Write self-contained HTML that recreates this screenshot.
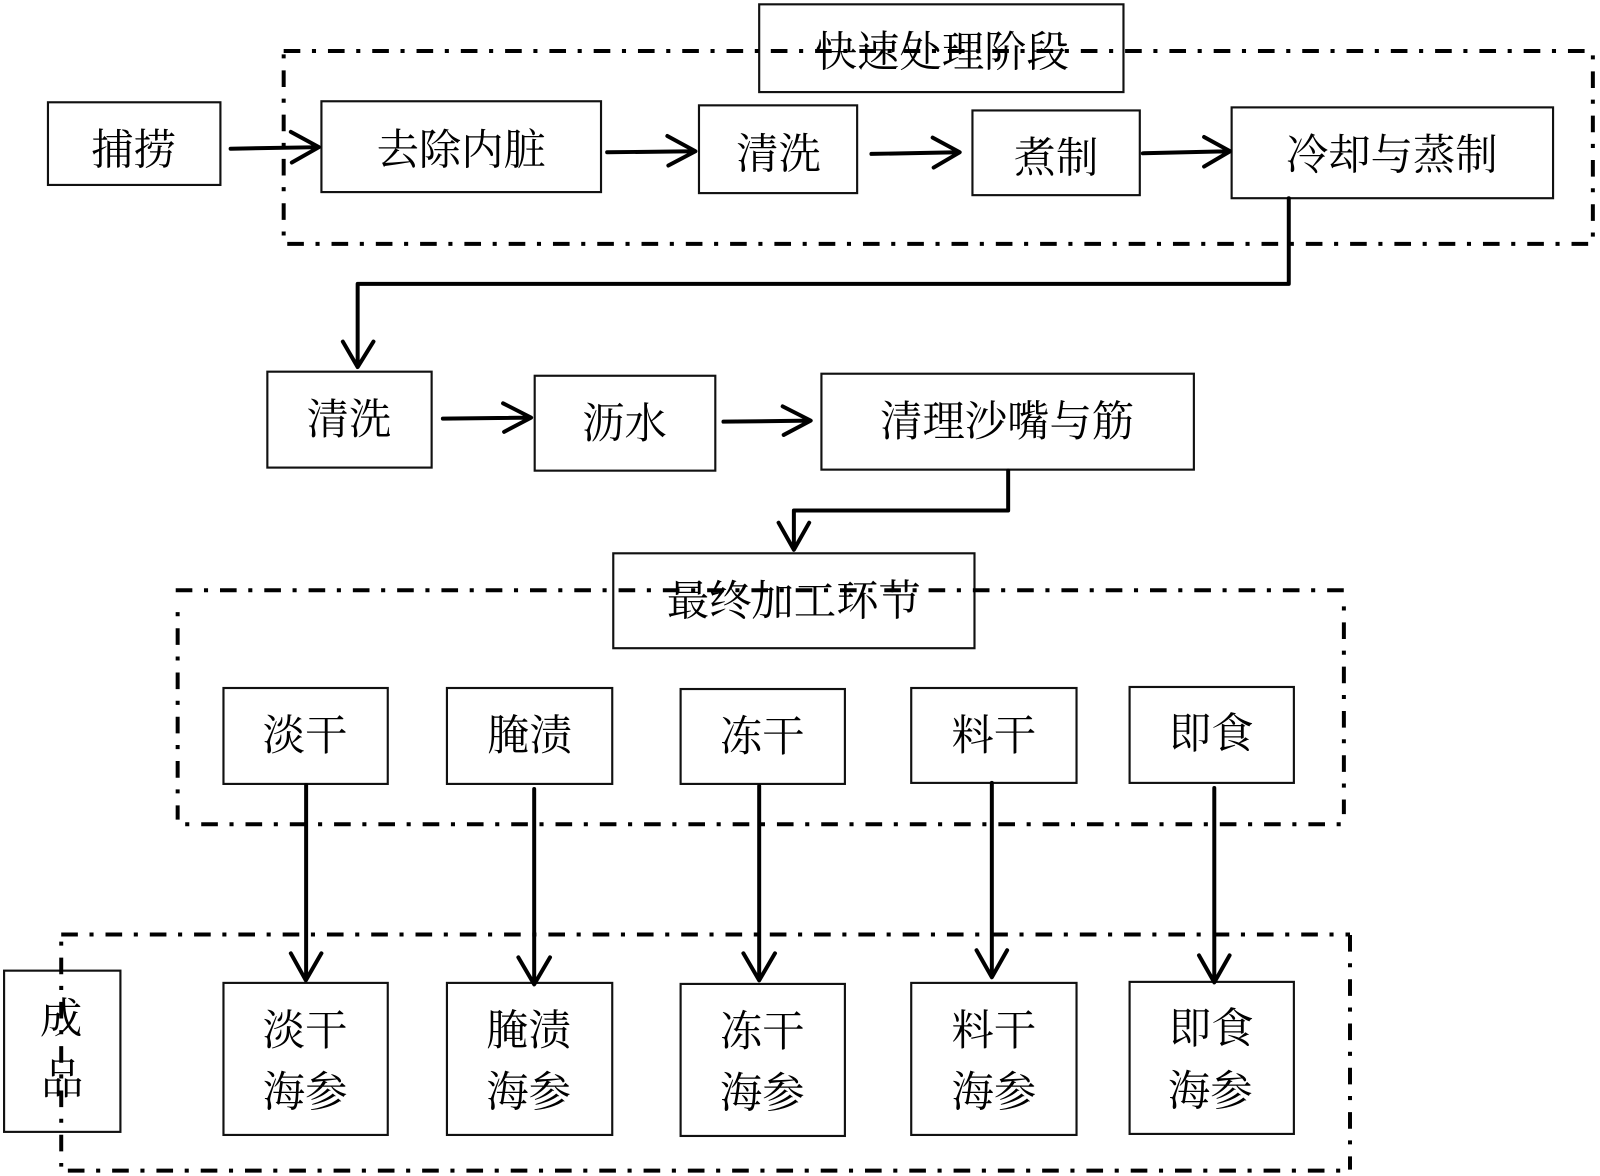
<!DOCTYPE html>
<html lang="zh">
<head>
<meta charset="utf-8">
<style>
html,body{margin:0;padding:0;background:#fff;width:1600px;height:1176px;overflow:hidden}
svg{display:block}
text{font-family:"Liberation Serif","Noto Serif CJK SC",serif;font-size:41.5px;text-anchor:middle;dominant-baseline:central;fill:#000}
.b{fill:none;stroke:#111;stroke-width:2.1}
.d{fill:none;stroke:#000;stroke-width:3.9;stroke-dasharray:16.3 11.4 4 11.7}
.v{fill:none;stroke:#000;stroke-width:3.9;stroke-dasharray:4 11.7 16.3 11.4}
.a{fill:none;stroke:#000;stroke-width:3.9;stroke-linejoin:round;stroke-linecap:round}
</style>
</head>
<body>
<svg width="1600" height="1176" viewBox="0 0 1568 1152" xmlns="http://www.w3.org/2000/svg">
<!-- boxes -->
<rect class="b" x="744" y="4" width="357" height="86"/>
<rect class="b" x="47" y="100" width="169" height="81"/>
<rect class="b" x="315" y="99" width="274" height="89"/>
<rect class="b" x="685" y="103" width="155" height="86"/>
<rect class="b" x="953" y="108" width="164" height="83"/>
<rect class="b" x="1207" y="105" width="315" height="89"/>
<rect class="b" x="262" y="364" width="161" height="94"/>
<rect class="b" x="524" y="368" width="177" height="93"/>
<rect class="b" x="805" y="366" width="365" height="94"/>
<rect class="b" x="601" y="542" width="354" height="93"/>
<rect class="b" x="219" y="674" width="161" height="94"/>
<rect class="b" x="438" y="674" width="162" height="94"/>
<rect class="b" x="667" y="675" width="161" height="93"/>
<rect class="b" x="893" y="674" width="162" height="93"/>
<rect class="b" x="1107" y="673" width="161" height="94"/>
<rect class="b" x="4" y="951" width="114" height="158"/>
<rect class="b" x="219" y="963" width="161" height="149"/>
<rect class="b" x="438" y="963" width="162" height="149"/>
<rect class="b" x="667" y="964" width="161" height="149"/>
<rect class="b" x="893" y="963" width="162" height="149"/>
<rect class="b" x="1107" y="962" width="161" height="149"/>
<!-- dash-dot frames -->
<path class="d" d="M278 49.700H1561"/>
<path class="d" d="M281.500 238.800H1561"/>
<path class="v" d="M278 53V230.500"/>
<path class="v" d="M1561 54V232"/>
<path class="d" d="M172.200 578.200H1317"/>
<path class="v" d="M181.500 807.500H1314"/>
<path class="v" d="M174.100 599.700V803"/>
<path class="v" d="M1317 594V797.600"/>
<path class="d" d="M60 915.600H1323"/>
<path class="d" d="M66.500 1147H1320"/>
<path class="v" d="M60 922.500V1143"/>
<path class="d" d="M1323 916V1146"/>
<!-- text -->
<g transform="translate(0,1.700)">
<text x="923" y="50">快速处理阶段</text>
<text x="131" y="146">捕捞</text>
<text x="452" y="146">去除内脏</text>
<text x="763" y="150">清洗</text>
<text x="1035" y="154">煮制</text>
<text x="1364" y="151">冷却与蒸制</text>
<text x="342" y="410">清洗</text>
<text x="612" y="414">沥水</text>
<text x="987" y="412">清理沙嘴与筋</text>
<text x="778" y="588">最终加工环节</text>
<text x="299" y="720">淡干</text>
<text x="519" y="720">腌渍</text>
<text x="747" y="721">冻干</text>
<text x="974" y="720">料干</text>
<text x="1187" y="718">即食</text>
<text x="60" y="997">成</text>
<text x="61" y="1057">品</text>
<text x="299" y="1009">淡干</text>
<text x="299" y="1069">海参</text>
<text x="518" y="1009">腌渍</text>
<text x="518" y="1069">海参</text>
<text x="747" y="1010">冻干</text>
<text x="747" y="1070">海参</text>
<text x="974" y="1009">料干</text>
<text x="974" y="1069">海参</text>
<text x="1187" y="1007">即食</text>
<text x="1186" y="1068">海参</text>
</g>
<!-- arrows -->
<path class="a" d="M226 145.500L311 144M285 129L312.500 144L286 159"/>
<path class="a" d="M595 149L680 148M654 133L681.500 148L655 162"/>
<path class="a" d="M854 150.600L939 149M914 134.600L940.500 149L915 164"/>
<path class="a" d="M1120 150L1204 148M1180 134L1205.500 148L1180 163"/>
<path class="a" d="M1263 194V278H350.500V358M336 334.500L350.500 359.500L366 334.500"/>
<path class="a" d="M434 410L519 409M493 395L520.500 409L494 423"/>
<path class="a" d="M709 413L793 412M767 398L794.500 412L768 426"/>
<path class="a" d="M988 461V500H778V537M763 512L778 538.500L793 512"/>
<path class="a" d="M300 769V959M285 934L299.700 960.500L315 934"/>
<path class="a" d="M523.500 773V963M508 938L523.500 964.500L539 938"/>
<path class="a" d="M744 770V959M728.500 934L744 960.500L759.500 934"/>
<path class="a" d="M972 767V956M957 931L972 957.500L987 931"/>
<path class="a" d="M1190 772V961M1175 936L1190 962.500L1205 936"/>
</svg>
</body>
</html>
